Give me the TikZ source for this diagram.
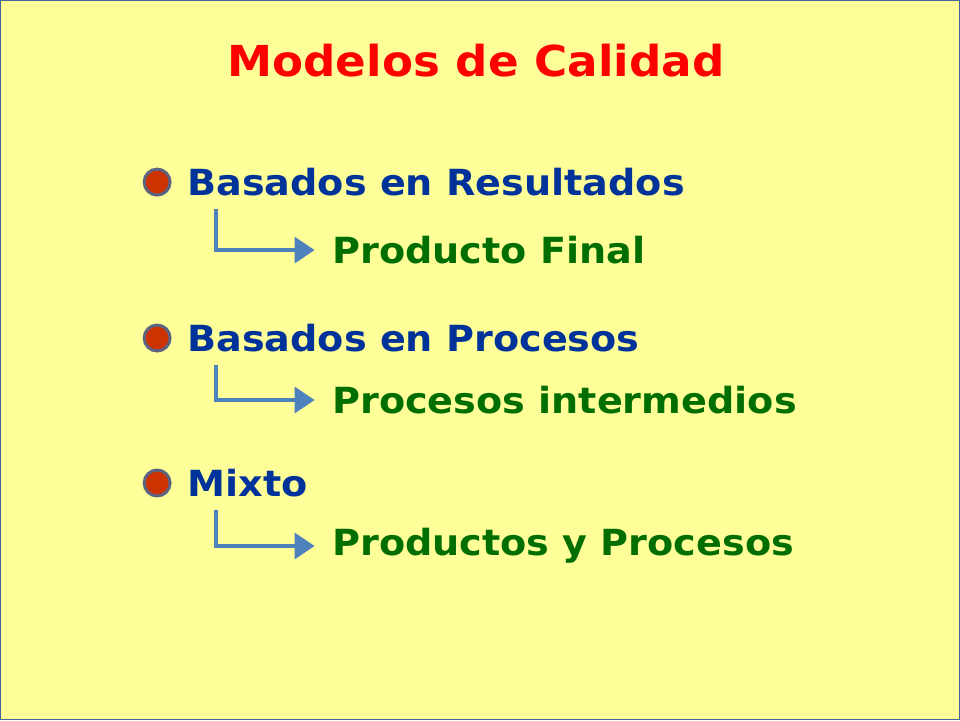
\documentclass[tikz,border=0pt]{standalone}
\usepackage{fontspec}
\setmainfont[FakeStretch=1.06]{DejaVu Sans}
\usetikzlibrary{positioning,arrows.meta}
\definecolor{bgyellow}{RGB}{255,255,153}
\definecolor{frameblue}{RGB}{70,100,150}
\definecolor{headblue}{RGB}{0,51,153}
\definecolor{subgreen}{RGB}{0,110,0}
\definecolor{dotred}{RGB}{204,51,0}
\definecolor{dotrim}{RGB}{90,100,130}
\definecolor{arrowblue}{RGB}{79,129,189}
\tikzset{
  heading/.style={font=\bfseries\fontsize{27}{32}\selectfont,text=headblue,anchor=west,inner sep=0pt},
  subitem/.style={font=\bfseries\fontsize{27}{32}\selectfont,text=subgreen,anchor=west,inner sep=0pt},
  dot/.style={circle,fill=dotred,draw=dotrim,line width=2.2pt,minimum size=19.5pt,inner sep=0pt},
  conn/.style={draw=arrowblue,line width=3.5pt,-{Triangle[width=19pt,length=15pt]},shorten >=13pt}
}
\begin{document}
\begin{tikzpicture}[x=0.75pt,y=-0.75pt]
\fill[bgyellow,draw=frameblue,line width=1pt] (0.5,0.5) rectangle (959.5,719.5);
\useasboundingbox (0,0) rectangle (960,720);
\node[font=\bfseries\fontsize{32}{38}\selectfont,text=red] (title) at (476,60) {Modelos de Calidad};
% three groups
\foreach \i/\hy/\gy/\htext/\gtext in {1/182/250/Basados en Resultados/Producto Final,
  2/338/400/Basados en Procesos/Procesos intermedios,
  3/483/546/Mixto/Productos y Procesos}{
  \node[dot] (dot\i) at (157,\hy) {};
  \node[heading] (head\i) at (187,\hy) {\htext};
  \node[subitem] (sub\i) at (332,\gy) {\gtext};
  \coordinate (start\i) at (216,\hy+27);
  \draw[conn] (start\i) |- (sub\i.west);
}
\end{tikzpicture}
\end{document}
